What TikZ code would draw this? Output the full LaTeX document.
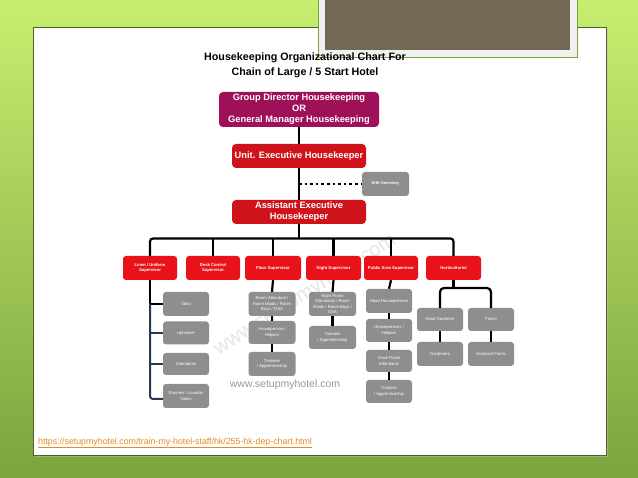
\documentclass[tikz,border=0pt]{standalone}
\usepackage{fontspec}
\setmainfont{Liberation Sans}
\definecolor{hkmagenta}{RGB}{158,16,88}
\definecolor{hkred}{RGB}{206,20,26}
\definecolor{hkbright}{RGB}{234,18,26}
\definecolor{hkgray}{RGB}{142,142,142}
\definecolor{hknavy}{RGB}{36,58,84}
\definecolor{hkgreenlt}{RGB}{200,238,112}
\definecolor{hkgreendk}{RGB}{124,164,62}
\definecolor{hkframe}{RGB}{113,104,86}
\definecolor{hkurl}{RGB}{228,138,36}
\usetikzlibrary{calc}

\begin{document}
\begin{tikzpicture}[x=1pt, y=-1pt,
  gdbox/.style={fill=hkmagenta, rounded corners=4pt, text=white, font=\fontsize{9.3}{11}\selectfont\bfseries, align=center, inner sep=1pt},
  redbox/.style={fill=hkred, rounded corners=4pt, text=white, font=\fontsize{9.3}{11}\selectfont\bfseries, align=center, inner sep=1pt, minimum width=134pt, minimum height=24pt},
  supbox/.style={fill=hkbright, rounded corners=3pt, text=white, font=\fontsize{4.2}{5.6}\selectfont\bfseries, align=center, inner sep=0.5pt, minimum width=54pt, minimum height=24pt},
  graybox/.style={fill=hkgray, rounded corners=3pt, text=white, font=\fontsize{4.2}{5.6}\selectfont, align=center, inner sep=0.5pt, minimum width=46pt, minimum height=23pt},
  conn/.style={draw=black, line width=2.2pt},
  navyconn/.style={draw=hknavy, line width=2pt},
  dotconn/.style={draw=black, line width=2.6pt, dash pattern=on 2.6pt off 3pt}]

  \useasboundingbox (0,0) rectangle (638,478);

  % Slide background and panel
  \fill[top color=hkgreenlt, bottom color=hkgreendk] (0,0) rectangle (638,478);
  \fill[black!25, opacity=0.5] (35,29) rectangle (608,457);
  \fill[white, draw=hkgreendk!60!black, line width=0.6pt] (33,27) rectangle (606,455);
  \fill[white!94!black, draw=hkgreendk, line width=0.8pt] (318,-2) rectangle (577,57);
  \fill[hkframe] (325,-2) rectangle (570,50);

  % Watermarks
  \node[text=black!10, font=\fontsize{20}{20}\selectfont, rotate=32] (wmdiag) at (305,295) {www.setupmyhotel.com};
  \node[text=black!40, font=\fontsize{10.5}{12}\selectfont] (wmtext) at (285,385) {www.setupmyhotel.com};

  % Title
  \node[font=\fontsize{10.7}{15}\selectfont\bfseries, align=center] (title) at (305,65.5) {Housekeeping Organizational Chart For\\Chain of Large / 5 Start Hotel};

  % Top management
  \node[gdbox, minimum width=160pt, minimum height=35pt] (gd) at (299,109.5) {Group Director Housekeeping\\OR\\General Manager Housekeeping};
  \node[redbox] (ueh) at (299,156) {Unit. Executive Housekeeper};
  \node[graybox, minimum width=47pt, minimum height=24pt, font=\fontsize{4}{5}\selectfont\bfseries] (ehk) at (385.5,184) {EHK Secretary};
  \node[redbox] (aeh) at (299,212) {Assistant Executive\\Housekeeper};

  % Supervisors
  \node[supbox] (linen) at (150,268) {Linen / Uniform\\Supervisor};
  \node[supbox] (desk) at (213,268) {Desk Control\\Supervisor};
  \node[supbox, minimum width=56pt] (floor) at (273,268) {Floor Supervisor};
  \node[supbox, minimum width=55pt] (night) at (333.5,268) {Night Supervisor};
  \node[supbox] (public) at (391,268) {Public Area Supervisor};
  \node[supbox, minimum width=55pt] (hort) at (453.5,268) {Horticulturist};

  % Linen column
  \node[graybox, minimum height=24pt] (tailor) at (186,304) {Tailor};
  \node[graybox] (uph) at (186,333) {Upholster};
  \node[graybox, minimum height=22pt] (att) at (186,364) {Attendants};
  \node[graybox, minimum height=24pt] (runners) at (186,396) {Runners / Laundry\\Valets};

  % Floor column
  \node[graybox, minimum width=47pt, minimum height=24pt] (roomatt) at (272,304) {Room Attendant /\\Room Maids / Room\\Boys / GSA};
  \node[graybox, minimum width=47pt] (floorhp) at (272,332.5) {Houseperson /\\Helpers};
  \node[graybox, minimum width=47pt, minimum height=24pt] (floortr) at (272,364) {Trainees\\/ Apprenticeship};

  % Night column
  \node[graybox, minimum width=47pt, minimum height=24pt] (nightatt) at (332.5,304) {Night Room\\Attendants / Room\\Maids / Room Boys /\\GSA};
  \node[graybox, minimum width=47pt] (nighttr) at (332.5,337.5) {Trainees\\/ Apprenticeship};

  % Public area column
  \node[graybox, minimum height=24pt] (headhp) at (389,301) {Head Housepersons};
  \node[graybox] (pubhp) at (389,330.5) {Housepersons /\\Helpers};
  \node[graybox, minimum height=22pt] (clock) at (389,361) {Clock Room\\Attendants};
  \node[graybox] (pubtr) at (389,391.5) {Trainees\\/ Apprenticeship};

  % Horticulture column
  \node[graybox] (headgard) at (440,319.5) {Head Gardener};
  \node[graybox] (florist) at (491,319.5) {Florist};
  \node[graybox, minimum height=24pt] (gard) at (440,354) {Gardeners};
  \node[graybox, minimum height=24pt] (asflorist) at (491,354) {Assistant Florist};

  % Connectors
  \coordinate (sec) at (299,184);
  \coordinate (bus) at (299,238.5);
  \coordinate (hbus) at (453.5,288);
  \draw[conn] (gd.south) -- (ueh.north);
  \draw[conn] (ueh.south) -- (aeh.north);
  \draw[dotconn] (sec) -- (ehk.west);
  \draw[conn] (aeh.south) -- (bus);
  \draw[conn, rounded corners=3pt] (linen.north) |- (bus) -| (hort.north);
  \draw[conn] (bus -| desk.north) -- (desk.north);
  \draw[conn] (bus -| floor.north) -- (floor.north);
  \draw[conn] (bus -| night.north) -- (night.north);
  \draw[conn] (bus -| public.north) -- (public.north);

  \draw[conn] (linen.south) -- (linen.south |- tailor.west) -- (tailor.west);
  \draw[navyconn, rounded corners=3pt] (linen.south |- tailor.west) |- ($(runners.west)+(0,3)$);
  \draw[navyconn] (linen.south |- uph.west) -- (uph.west);
  \draw[navyconn] (linen.south |- att.west) -- (att.west);

  \draw[conn] (floor.south) -- (roomatt.north);
  \draw[conn] (roomatt.south) -- (floorhp.north);
  \draw[conn] (floorhp.south) -- (floortr.north);

  \draw[conn] (night.south) -- (nightatt.north);
  \draw[conn] (nightatt.south) -- (nighttr.north);

  \draw[conn] (public.south) -- (headhp.north);
  \draw[conn] (headhp.south) -- (pubhp.north);
  \draw[conn] (pubhp.south) -- (clock.north);
  \draw[conn] (clock.south) -- (pubtr.north);

  \draw[conn] (hort.south) -- (hbus);
  \draw[conn, rounded corners=4pt] (headgard.north) |- (hbus) -| (florist.north);
  \draw[conn] (headgard.south) -- (gard.north);
  \draw[conn] (florist.south) -- (asflorist.north);

  % Source link
  \node[anchor=west, text=hkurl, font=\fontsize{8.8}{10}\selectfont, inner sep=0pt] (url) at (38,443) {\underline{https://setupmyhotel.com/train-my-hotel-staff/hk/255-hk-dep-chart.html}};
\end{tikzpicture}
\end{document}
